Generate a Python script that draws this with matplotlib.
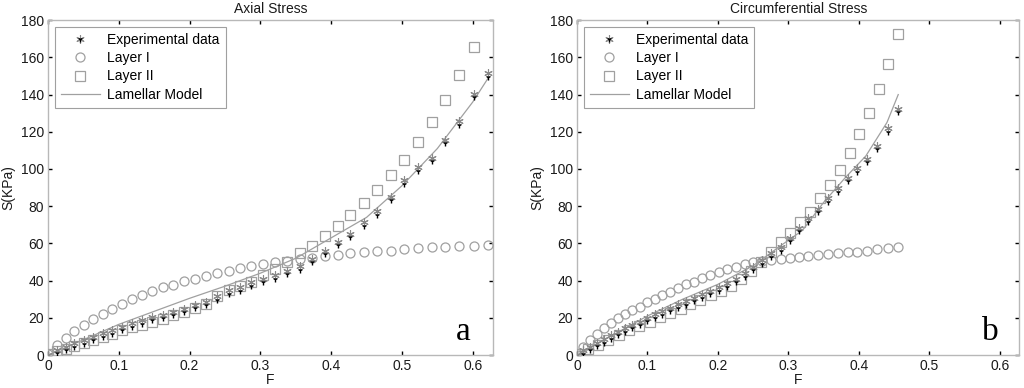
import matplotlib
matplotlib.use("Agg")
import matplotlib.pyplot as plt
import matplotlib.transforms as mtransforms
from matplotlib.lines import Line2D

plt.rcParams["font.family"] = ["Liberation Sans", "DejaVu Sans"]

# ---- panel a: axial stress ----
F_a = [0, 0.012, 0.025, 0.037, 0.050, 0.064, 0.077, 0.090, 0.104, 0.118,
       0.133, 0.147, 0.162, 0.177, 0.192, 0.207, 0.223, 0.239, 0.255, 0.271,
       0.287, 0.304, 0.321, 0.338, 0.356, 0.373, 0.391, 0.409, 0.427, 0.446,
       0.465, 0.484, 0.503, 0.522, 0.542, 0.561, 0.581, 0.602, 0.622]
exp_a = [0, 2.7, 4.5, 6.3, 8.0, 9.8, 11.6, 13.4, 15.2, 17.0,
         18.7, 20.5, 21.6, 23.2, 25.0, 27.0, 28.7, 31.7, 34.7, 36.5,
         39.2, 41.0, 42.8, 45.4, 47.6, 51.7, 56.1, 61.0, 65.3, 71.3,
         77.2, 85.2, 94.0, 101.0, 106.0, 115.8, 125.6, 140.4, 151.5]
layer1_a = [0.5, 5.3, 9.3, 12.8, 16.0, 19.2, 22.3, 25.0, 27.6, 29.9,
            32.1, 34.2, 36.6, 37.8, 39.6, 41.0, 42.6, 44.2, 45.4, 46.7,
            47.8, 49.0, 49.9, 50.8, 51.7, 52.2, 53.0, 53.8, 54.7, 55.3,
            55.8, 56.1, 57.0, 57.4, 57.9, 58.3, 58.5, 58.8, 59.3]
layer2_a = [0.5, 2.0, 3.5, 5.0, 6.6, 8.0, 9.8, 11.5, 13.2, 14.8,
            16.3, 17.8, 19.6, 21.4, 23.2, 25.2, 27.5, 31.7, 34.7, 37.0,
            39.5, 43.0, 46.3, 50.2, 54.7, 58.8, 64.0, 69.2, 75.2, 81.6,
            88.7, 96.6, 105.1, 114.6, 125.1, 137.2, 150.6, 165.4]
model_F_a = [0, 0.05, 0.1, 0.15, 0.2, 0.25, 0.3, 0.35, 0.4, 0.45, 0.5, 0.55, 0.6, 0.622]
model_S_a = [0, 8.2, 16.5, 23.5, 30.5, 37, 44, 52, 63, 74, 91, 111, 136, 149]

# ---- panel b: circumferential stress ----
F_b = [0, 0.009, 0.019, 0.028, 0.038, 0.048, 0.058, 0.068, 0.078, 0.089,
       0.099, 0.110, 0.121, 0.132, 0.143, 0.154, 0.166, 0.178, 0.189, 0.201,
       0.213, 0.225, 0.238, 0.250, 0.263, 0.276, 0.289, 0.302, 0.315, 0.328,
       0.342, 0.356, 0.370, 0.384, 0.398, 0.412, 0.426, 0.441, 0.456]
exp_b = [0, 2.5, 4.5, 6.5, 8.5, 10.5, 12.5, 14.3, 16.2, 18.0,
         20.0, 21.8, 23.6, 25.4, 27.2, 29.0, 30.8, 32.6, 34.5, 36.5,
         38.6, 41.0, 44.0, 47.5, 51.0, 54.7, 58.0, 63.0, 68.5, 73.5,
         78.5, 84.2, 89.6, 95.4, 100.4, 105.5, 112.4, 122.0, 132.5]
layer1_b = [0, 4.5, 8.1, 11.1, 14.4, 17.0, 19.7, 21.9, 24.2, 26.0,
            28.3, 30.1, 32.3, 34.1, 36.2, 38.0, 39.5, 41.2, 43.0, 44.5,
            46.2, 47.5, 48.8, 49.8, 50.5, 51.0, 51.6, 52.4, 52.9, 53.4,
            53.8, 54.1, 54.7, 55.2, 55.6, 56.1, 56.8, 57.3, 57.9]
F2_b = [0, 0.015, 0.030, 0.044, 0.059, 0.074, 0.088, 0.103, 0.118, 0.132,
        0.147, 0.161, 0.175, 0.190, 0.204, 0.218, 0.233, 0.247, 0.261, 0.275,
        0.289, 0.303, 0.317, 0.331, 0.345, 0.359, 0.373, 0.387, 0.401, 0.414,
        0.428, 0.442, 0.456]
layer2_b = [0.5, 3.0, 5.5, 8.0, 10.8, 13.2, 15.6, 18.0, 20.3, 22.6,
            25.0, 27.3, 29.6, 32.0, 34.3, 37.3, 40.8, 45.0, 50.0, 55.3,
            60.8, 65.6, 71.3, 77.1, 84.2, 91.4, 99.5, 108.8, 118.6, 129.9,
            142.8, 156.3, 172.4]
model_F_b = [0, 0.05, 0.1, 0.15, 0.2, 0.25, 0.29, 0.32, 0.35, 0.38, 0.41, 0.44, 0.456]
model_S_b = [0, 10.5, 21, 30, 38, 48, 59, 67, 82, 95, 107, 125, 140]

x_ticks = [0, 0.1, 0.2, 0.3, 0.4, 0.5, 0.6]
y_ticks = [0, 20, 40, 60, 80, 100, 120, 140, 160, 180]

GRAY = "#a0a0a0"
STAR = (6, 2, 0)


def draw_panel(ax, fig, title, letter, F, exp, l1, F2, l2, mF, mS):
    ax.plot(mF, mS, color=GRAY, lw=0.9, zorder=2)
    ax.plot(F, l1, ls="none", marker="o", ms=6.5, mfc="none", mec=GRAY, mew=0.9, zorder=3)
    ax.plot(F2, l2, ls="none", marker="s", ms=6.5, mfc="none", mec=GRAY, mew=0.9, zorder=3)
    # experimental marker: grey asterisk with a few black dots underneath
    ax.plot(F, exp, ls="none", marker=STAR, ms=6, mec="#8a8a8a", mew=0.8, zorder=4)
    shift = mtransforms.ScaledTranslation(0, -2.5 / 72, fig.dpi_scale_trans)
    ax.plot(F, exp, ls="none", marker="1", ms=4, mec="black", mew=1.0,
            transform=ax.transData + shift, zorder=5)

    ax.set_xlim(0, 0.628)
    ax.set_ylim(0, 180)
    ax.set_xticks(x_ticks)
    ax.set_xticklabels(["0", "0.1", "0.2", "0.3", "0.4", "0.5", "0.6"])
    ax.set_yticks(y_ticks)
    ax.tick_params(direction="in", length=3, width=1, color="black",
                   top=True, right=True, labelsize=10, labelcolor="#1a1a1a", pad=3)
    for s in ax.spines.values():
        s.set_color("#b8b8b8")
        s.set_linewidth(1.0)
    ax.set_title(title, fontsize=10, pad=5, color="#1a1a1a")
    ax.set_xlabel("F", fontsize=10, labelpad=0, color="#1a1a1a")
    ax.set_ylabel("S(KPa)", fontsize=10, labelpad=4, color="#1a1a1a")
    ax.text(0.935, 0.045, letter, transform=ax.transAxes, fontsize=24,
            family="Liberation Serif", ha="center", va="baseline")

    h_exp = (Line2D([], [], ls="none", marker=STAR, ms=6, mec="#8a8a8a", mew=0.8),
             Line2D([], [], ls="none", marker="1", ms=4, mec="black", mew=1.0))
    h_l1 = Line2D([], [], ls="none", marker="o", ms=6.5, mfc="none", mec=GRAY, mew=0.9)
    h_l2 = Line2D([], [], ls="none", marker="s", ms=6.5, mfc="none", mec=GRAY, mew=0.9)
    h_m = Line2D([], [], color=GRAY, lw=0.9)
    leg = ax.legend([h_exp, h_l1, h_l2, h_m],
                    ["Experimental data", "Layer I", "Layer II", "Lamellar Model"],
                    loc="upper left", bbox_to_anchor=(0.015, 0.98), borderaxespad=0,
                    fontsize=10, frameon=True, fancybox=False, handlelength=2.8,
                    handletextpad=0.5, labelspacing=0.3, borderpad=0.45)
    leg.get_frame().set_edgecolor("#888888")
    leg.get_frame().set_linewidth(0.8)


fig = plt.figure(figsize=(10.24, 3.88), dpi=100)
ax1 = fig.add_axes([0.047, 0.085, 0.434, 0.863])
ax2 = fig.add_axes([0.5635, 0.085, 0.432, 0.863])

draw_panel(ax1, fig, "Axial Stress", "a", F_a, exp_a, layer1_a,
           F_a[:len(layer2_a)], layer2_a, model_F_a, model_S_a)
draw_panel(ax2, fig, "Circumferential Stress", "b", F_b, exp_b, layer1_b,
           F2_b, layer2_b, model_F_b, model_S_b)

fig.savefig("out.png", dpi=100)
